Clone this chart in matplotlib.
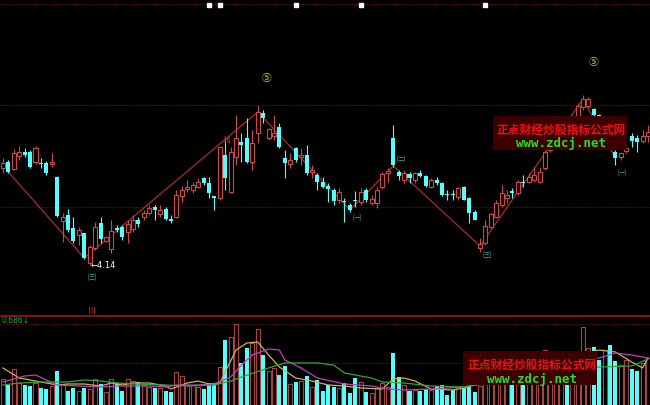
import numpy as np
import matplotlib.pyplot as plt
from matplotlib.patches import Rectangle
from matplotlib.lines import Line2D

plt.rcParams['font.family'] = ['Noto Sans CJK SC', 'DejaVu Sans']

# daily bars, oldest first
opens = [5.11, 5.17, 5.10, 5.23, 5.27, 5.27, 5.17, 5.16, 5.16, 5.15,
         5.02, 4.58, 4.64, 4.51, 4.44, 4.46, 4.16, 4.31, 4.56, 4.38,
         4.30, 4.51, 4.52, 4.47, 4.50, 4.59, 4.62, 4.66, 4.72, 4.65,
         4.70, 4.60, 4.62, 4.83, 4.90, 4.89, 4.92, 5.01, 4.96, 4.83,
         4.81, 5.24, 4.87, 5.22, 5.37, 5.41, 5.17, 5.46, 5.66, 5.41,
         5.43, 5.52, 5.21, 5.15, 5.31, 5.22, 5.24, 5.07, 5.04, 4.97,
         4.93, 4.89, 4.79, 4.78, 4.74, 4.79, 4.77, 4.89, 4.76, 4.76,
         4.92, 5.06, 5.41, 5.07, 4.99, 5.05, 4.99, 5.06, 5.03, 4.92,
         4.99, 4.96, 4.85, 4.85, 4.82, 4.92, 4.81, 4.67, 4.31, 4.36,
         4.52, 4.62, 4.74, 4.81, 4.88, 4.86, 4.97, 4.97, 4.99, 4.97,
         5.11, 5.29, 5.37, 5.43, 5.57, 5.54, 5.61, 5.72, 5.73, 5.70,
         5.64, 5.39, 5.49, 5.27, 5.22, 5.28, 5.43, 5.41, 5.38, 5.43]
highs = [5.21, 5.19, 5.30, 5.33, 5.31, 5.29, 5.33, 5.21, 5.18, 5.26,
         5.03, 4.66, 4.70, 4.62, 4.52, 4.46, 4.34, 4.57, 4.62, 4.43,
         4.59, 4.54, 4.54, 4.59, 4.64, 4.62, 4.69, 4.74, 4.74, 4.74,
         4.72, 4.64, 4.89, 4.93, 4.99, 4.97, 5.01, 5.02, 5.02, 4.83,
         5.33, 5.39, 5.32, 5.64, 5.46, 5.61, 5.49, 5.74, 5.69, 5.51,
         5.64, 5.56, 5.29, 5.26, 5.32, 5.31, 5.34, 5.14, 5.06, 5.02,
         4.96, 4.91, 4.91, 4.81, 4.76, 4.88, 4.91, 4.91, 4.84, 4.92,
         5.07, 5.11, 5.54, 5.09, 5.09, 5.07, 5.07, 5.09, 5.04, 5.01,
         5.02, 4.97, 4.89, 4.89, 4.92, 4.93, 4.82, 4.69, 4.41, 4.59,
         4.66, 4.79, 4.94, 4.89, 4.91, 4.99, 5.04, 5.06, 5.12, 5.12,
         5.29, 5.44, 5.51, 5.59, 5.61, 5.64, 5.76, 5.84, 5.82, 5.71,
         5.65, 5.59, 5.51, 5.29, 5.27, 5.34, 5.46, 5.44, 5.49, 5.54]
lows = [5.06, 5.06, 5.09, 5.19, 5.22, 5.11, 5.15, 5.11, 5.04, 5.12,
        4.62, 4.37, 4.47, 4.36, 4.34, 4.20, 4.14, 4.29, 4.36, 4.37,
        4.26, 4.47, 4.39, 4.36, 4.47, 4.52, 4.59, 4.64, 4.59, 4.62,
        4.59, 4.56, 4.61, 4.77, 4.87, 4.86, 4.91, 4.94, 4.81, 4.69,
        4.79, 4.89, 4.86, 5.14, 5.17, 5.16, 5.09, 5.36, 5.56, 5.39,
        5.39, 5.31, 5.01, 5.11, 5.17, 5.14, 5.04, 5.01, 4.89, 4.91,
        4.77, 4.74, 4.76, 4.57, 4.67, 4.72, 4.74, 4.77, 4.74, 4.71,
        4.90, 4.97, 5.12, 4.99, 4.96, 4.96, 4.96, 5.02, 4.92, 4.91,
        4.94, 4.83, 4.79, 4.79, 4.79, 4.79, 4.56, 4.59, 4.27, 4.34,
        4.51, 4.61, 4.72, 4.76, 4.81, 4.84, 4.92, 4.96, 4.97, 4.96,
        5.09, 5.27, 5.34, 5.39, 5.47, 5.51, 5.59, 5.69, 5.71, 5.62,
        5.61, 5.37, 5.31, 5.14, 5.19, 5.26, 5.32, 5.27, 5.36, 5.37]
closes = [5.16, 5.07, 5.26, 5.27, 5.24, 5.12, 5.31, 5.15, 5.06, 5.17,
          4.63, 4.62, 4.49, 4.38, 4.49, 4.21, 4.32, 4.52, 4.40, 4.42,
          4.48, 4.49, 4.42, 4.55, 4.59, 4.55, 4.66, 4.71, 4.69, 4.69,
          4.60, 4.58, 4.84, 4.89, 4.92, 4.94, 4.97, 4.96, 4.86, 4.81,
          5.32, 5.01, 5.27, 5.41, 5.34, 5.17, 5.36, 5.67, 5.61, 5.50,
          5.46, 5.32, 5.16, 5.19, 5.19, 5.24, 5.06, 5.09, 4.97, 4.92,
          4.90, 4.78, 4.87, 4.77, 4.69, 4.78, 4.87, 4.79, 4.80, 4.89,
          5.05, 5.08, 5.14, 5.03, 5.06, 5.01, 5.06, 5.03, 4.93, 4.99,
          4.96, 4.84, 4.84, 4.84, 4.91, 4.79, 4.66, 4.59, 4.35, 4.53,
          4.65, 4.76, 4.86, 4.84, 4.86, 4.97, 4.96, 5.02, 5.04, 5.07,
          5.27, 5.39, 5.46, 5.53, 5.51, 5.62, 5.73, 5.80, 5.80, 5.64,
          5.63, 5.54, 5.34, 5.21, 5.26, 5.31, 5.38, 5.37, 5.43, 5.47]
volumes = [26, 20, 36, 22, 20, 19, 22, 17, 16, 19,
           34, 21, 14, 17, 14, 17, 16, 26, 21, 13,
           26, 22, 14, 26, 24, 23, 20, 18, 17, 17,
           14, 13, 33, 29, 20, 20, 18, 16, 22, 21,
           38, 65, 68, 81, 42, 57, 62, 76, 50, 34,
           37, 30, 39, 21, 23, 24, 29, 18, 25, 14,
           20, 18, 17, 22, 12, 27, 23, 13, 12, 17,
           22, 18, 52, 28, 20, 14, 15, 14, 16, 15,
           19, 20, 10, 15, 18, 17, 18, 13, 19, 35,
           33, 37, 30, 33, 27, 35, 31, 29, 33, 40,
           55, 45, 43, 40, 47, 45, 50, 78, 57, 58,
           45, 55, 60, 44, 40, 45, 36, 34, 42, 47]

# volume averages as (bar, value)
ma5_x = [0, 3, 7, 10, 12, 15, 18, 20, 22, 24, 27, 30, 31, 34, 36, 38, 40,
         43, 45, 47, 49, 51, 54, 57, 60, 63, 66, 70, 72, 74, 76, 79, 83, 85,
         110, 113, 116, 118, 119]
ma5_y = [37, 27, 23, 20, 21, 21, 19, 22, 20, 22, 22, 19, 16, 22, 24, 21, 22,
         55, 62, 63, 50, 38, 27, 24, 20, 19, 17, 16, 26, 27, 24, 16, 15, 17,
         55, 53, 43, 37, 47]
ma10_x = [0, 2, 4, 6, 8, 10, 14, 18, 21, 27, 30, 32, 36, 39, 42, 44, 46, 49,
          51, 52, 55, 58, 63, 68, 71, 74, 79, 85, 110, 113, 116, 119]
ma10_y = [23, 26, 29, 30, 25, 20, 19, 18, 19, 19, 18, 20, 20, 21, 28, 40,
          50, 56, 55, 45, 37, 27, 21, 19, 16, 15, 16, 18, 47, 52, 50, 47]
ma20_x = [0, 3, 7, 12, 15, 18, 21, 24, 30, 34, 39, 42, 44, 49, 52, 58, 61,
          63, 68, 70, 74, 79, 85, 110, 116, 119]
ma20_y = [20, 22, 23, 23, 25, 24, 22, 21, 20, 19, 20, 24, 28, 37, 42, 42, 40,
          32, 27, 23, 22, 19, 18, 38, 39, 46]

# zigzag turning points
zz_x = [1, 15, 47, 64, 72, 88, 107, 113]
zz_y = [5.07, 4.21, 5.67, 4.69, 5.13, 4.33, 5.80, 5.21]

o = np.array(opens)
h = np.array(highs)
l = np.array(lows)
c = np.array(closes)
v = np.array(volumes)
x = np.arange(len(o))
up = c >= o
dn = ~up

red = '#d04848'
cyan = '#54ffff'
grid = '#6a0a0a'

fig = plt.figure(figsize=(6.5, 4.05), dpi=100, facecolor='black')
ax = fig.add_axes([0, 89 / 405, 1, 316 / 405])
vx = fig.add_axes([0, 0, 1, 89 / 405])
for a in (ax, vx):
    a.set_facecolor('black')
    a.axis('off')
    a.set_xlim(-0.55, 119.37)
ax.set_ylim(3.63, 6.79)
vx.set_ylim(0, 89)

for lvl in (6.75, 5.74, 4.72):
    ax.axhline(lvl, color=grid, lw=0.8, ls=(0, (1, 1)), zorder=0)
for lvl in (81, 42):
    vx.axhline(lvl, color=grid, lw=0.8, ls=(0, (1, 1)), zorder=0)
fig.add_artist(Line2D([0, 1], [89 / 405, 89 / 405], color='#8a1010', lw=1.4))

# zigzag under the candles
ax.plot(zz_x, zz_y, color='#b02828', lw=0.9, zorder=1)

# candles
lo = np.minimum(o, c)
hi = np.maximum(o, c)
body = np.maximum(hi - lo, 0.006)
w = 0.74
ax.vlines(x[dn], l[dn], h[dn], color=cyan, lw=0.8, zorder=2)
ax.bar(x[dn], body[dn], w, bottom=lo[dn], color=cyan, lw=0, zorder=3)
ax.vlines(x[up], hi[up], h[up], color=red, lw=0.8, zorder=2)
ax.vlines(x[up], l[up], lo[up], color=red, lw=0.8, zorder=2)
ax.bar(x[up], body[up], w, bottom=lo[up], facecolor='black', edgecolor=red,
       lw=0.8, zorder=3)

# markers along the top edge
ax.plot([38, 40, 54, 66, 89], [6.74] * 5, 's', color='white', ms=2.2,
        zorder=4)

# labels
ax.text(16.1, 4.14, '←4.14', color='white', fontsize=6, va='center',
        ha='left', family='DejaVu Sans', zorder=4)
ax.text(48.7, 6.01, '⑤', color='#d8d800', fontsize=7, ha='center',
        va='center', zorder=4)
ax.text(108.9, 6.17, '⑤', color='#d8d800', fontsize=7, ha='center',
        va='center', zorder=4)
teal = '#4aa8a8'
for xi, yi, s in [(16.4, 4.02, '㈢'), (89.3, 4.24, '㈢'), (65.3, 4.61, '㈠'),
                  (73.4, 5.19, '㈡'), (114.2, 5.06, '㈠')]:
    ax.text(xi, yi, s, color=teal, fontsize=6, ha='center', va='center',
            zorder=4)
ax.text(41.3, 5.39, 'hl', color=red, fontsize=6, ha='center', va='center',
        zorder=4)
ax.text(16.4, 3.67, 'Ⅲ', color='#e02020', fontsize=6, ha='center',
        va='center', zorder=4)

# volume bars and averages
vx.bar(x[dn], v[dn], w, color=cyan, lw=0, zorder=2)
vx.bar(x[up], v[up], w, facecolor='black', edgecolor='#a84444', lw=0.8,
       zorder=2)
vx.plot(ma5_x, ma5_y, color='#c8b45a', lw=0.9, zorder=3)
vx.plot(ma10_x, ma10_y, color='#c040c0', lw=0.9, zorder=3)
vx.plot(ma20_x, ma20_y, color='#30a830', lw=0.9, zorder=3)
vx.text(0.003, 0.945, '0.686↓', color='#20b020', fontsize=5.5,
        transform=vx.transAxes, va='center', ha='left', family='DejaVu Sans')

# site watermarks
for bx, by, tx, ty_r, ty_g in [(493, 150, 561, 130, 143),
                               (463, 385, 532, 365, 379)]:
    fig.add_artist(Rectangle((bx / 650, (405 - by) / 405), 134 / 650,
                             34 / 405, transform=fig.transFigure,
                             facecolor='#3c0000', lw=0, zorder=5))
    fig.text(tx / 650, (405 - ty_r) / 405, '正点财经炒股指标公式网',
             color='#f01010', fontsize=8.5, fontweight='bold', ha='center',
             va='center', zorder=6)
    fig.text(tx / 650, (405 - ty_g) / 405, 'www.zdcj.net', color='#20e020',
             fontsize=9, fontweight='bold', family='DejaVu Sans Mono',
             ha='center', va='center', zorder=6)

fig.savefig('out.png', dpi=100, facecolor='black')
